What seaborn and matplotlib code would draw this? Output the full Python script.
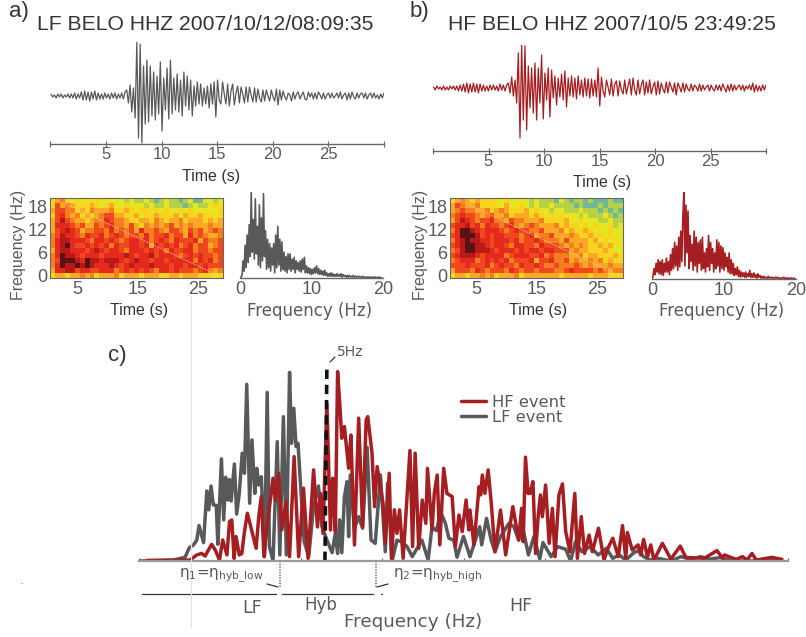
import numpy as np
import matplotlib
matplotlib.use("Agg")
import matplotlib.pyplot as plt
from matplotlib.colors import LinearSegmentedColormap
from matplotlib.lines import Line2D
import seaborn as sns

W, H = 806, 637

# waveforms (amplitude, evenly spread over the time axis)
lf_wave = [2,-1,1,-2,2,-1,2,-2,1,-1,2,-2,2,-2,3,-3,2,-2,4,-4,5,-4,4,-5,4,-3,5,-4,3,-3,2,-3,3,-2,2,-3,3,-2,3,-3,2,-2,3,-3,4,
           6,-7,11,-16,8,-22,54,-42,52,-47,
           30,-28,36,-26,30,-20,24,-24,20,-18,34,-35,18,-14,28,-23,36,-18,18,-14,22,-16,16,-20,24,-10,20,-14,16,-20,
           10,-10,14,-8,12,-10,8,-8,10,-12,12,-8,14,-21,
           16,-4,-8,14,2,-8,12,-10,5,12,-9,3,10,-7,9,2,-7,9,-6,9,1,-6,8,-6,7,-2,-6,6,-5,6,0,-5,
           6,-1,-5,7,-9,6,-4,5,-1,-4,3,1,-5,4,-3,2,4,-3,1,4,-3,-4,4,-1,3,-3,3,-3,4,1,-3,3,-3,1,3,-2,3,-2,0,3,
           -2,4,-3,1,3,-4,3,-3,4,-1,-3,3,-2,2,3,-2,3,-3,1,3,-2,3,-2,1,-3,2,-2,3]
hf_wave = [1,-2,2,-1,1,-2,2,-2,1,-2,2,-1,2,-2,2,-3,3,-3,4,-4,5,-5,4,-4,5,-4,4,-5,4,-3,3,-3,2,-3,3,-2,3,-2,2,-3,4,-2,3,-3,3,
           5,-5,11,-8,8,-15,35,-50,43,-32,42,-42,22,-20,20,-25,25,-32,20,-15,33,-31,15,-12,20,-29,18,-10,12,-17,10,-9,14,-12,17,-19,
           10,-8,12,-9,10,-11,12,-7,8,-9,10,-8,9,-10,9,-8,8,-9,20,-18,
           11,-3,-9,8,1,-7,9,-8,4,7,-8,7,-2,-6,8,-6,2,9,-7,10,-2,-7,8,-6,3,8,-7,6,-5,8,-6,1,6,-7,7,-6,5,-1,-5,6,
           -5,6,1,-4,5,-7,5,1,-4,5,-4,4,-1,-3,4,-3,3,1,-3,4,-3,3,-2,1,3,-3,3,-1,-3,3,-2,3,-3,4,0,-4,3,-3,4,-3,
           3,-2,1,3,-2,3,-3,2,-1,3,-2,5,-4,3,-3,2,-3,3,-2,3]

# spectrogram levels, 0 = weak (teal) .. 9 = strong (dark), top row = highest frequency
lf_spec = ["34532322332222212112101211012002212",
           "36454333432342232221211211101211232",
           "46655343544453343233232322323222223",
           "36754534345664433423343334243343323",
           "46865443455765543344354344534443434",
           "47776564465675546435454564545444544",
           "46787645566575656475565466546564565",
           "56877657667567656657566756647565445",
           "57887776577676567767567657666746556",
           "57897667676757667767476767567566456",
           "47887776787677657776767576677566566",
           "57988767776777787677867776567676656",
           "56999879887888767877677677777576756",
           "57988989877787678777877767767767666",
           "47788677667775676767657767666567545",
           "34434454534445344434443344344433323"]
hf_spec = ["34543433322322221211102101101000100",
           "46544533332422321211211110100010111",
           "45655445345433342322122111211101010",
           "56766545644534443432323222121112101",
           "46876566755465544453333422322211211",
           "67786757665675456544453433232322312",
           "57998767776567665564445343343222322",
           "67999867677666567455644454334332322",
           "57898877677767566765554644443423232",
           "67899887677657766576665454543343422",
           "56899888767776767767766645443334322",
           "67888767777567776675655544534433343",
           "56777567676756667466755645445453433",
           "66676667567665766765565556545444544",
           "46665765666576566566655676666565455",
           "34434454534445344444443444443444333"]
spec_colors = ["#6fb89a", "#b8d048", "#e8e61e", "#f8d41e", "#f9a825", "#f5801f",
               "#f0481e", "#e42a1c", "#b81a18", "#5a1214"]

# small spectra, 7 values per Hz
lf_small = [0,1,3,20,8,38,12, 50,18,62,25,100,30,68, 22,92,28,60,15,85,12, 70,20,98,25,55,10,45,
            12,40,8,35,15,40,6, 50,12,60,15,45,8,42, 10,30,8,25,6,28,10, 28,8,22,10,24,6,20,
            10,18,8,20,7,22,10, 24,6,14,6,12,5,11, 4,10,5,12,6,14,5, 11,4,9,4,8,3,9,
            3,6,2,5,2,6,2, 5,2,4,2,5,2,4, 2,5,1,4,2,3,1, 3,1,3,1,2,1,3, 1,2,1,2,1,2,1,
            1,2,1,1,1,1,1, 1,1,1,1,0,1,1, 1,0,1,0,1,0,0]
hf_small = [0,3,12,5,18,8,22, 6,20,5,22,4,18,8, 24,8,20,5,28,10,35, 12,42,15,38,10,48,14,
            55,20,70,100,15,85,30, 78,12,50,20,40,10,55, 15,48,8,42,18,45,10, 48,12,30,8,35,14,50,
            10,42,18,35,8,30,12, 45,15,42,8,38,12,36, 10,30,14,25,8,30,6, 22,6,18,4,12,5,14,
            3,10,2,8,3,7,2, 8,2,6,3,10,2,6, 2,7,2,5,1,6,2, 4,1,3,1,3,1,2, 1,3,1,2,1,2,1,
            1,2,1,2,1,1,1, 1,1,2,1,1,1,1, 1,0,1,1,0,1,0]

# panel c spectra
lf_freq = [0.03,1.06,1.42,1.55,1.68,1.78,1.85,1.99,2.09,2.15,2.22,2.29,2.38,2.43,2.54,2.61,2.67,2.74,2.79,2.84,
           2.94,3.01,3.09,3.18,3.25,3.32,3.41,3.48,3.57,3.63,3.69,3.77,3.87,3.95,4.02,4.13,4.26,4.34,4.45,4.54,
           4.64,4.70,4.77,4.84,4.90,5.02,5.09,5.23,5.38,5.53,5.64,5.79,5.95,6.05,6.12,6.18,6.25,6.33,6.41,6.46,
           6.51,6.64,6.77,6.89,7.03,7.15,7.28,7.44,7.59,7.66,7.80,7.95,8.11,8.26,8.42,8.57,8.72,8.91,9.03,9.17,
           9.29,9.44,9.55,9.70,9.80,10.0,10.2,10.5,10.56,10.71,10.85,10.97,11.14,11.4,11.55,11.7,11.8,12.0,12.17,12.35,
           12.45,12.7,12.9,13.15,13.3,13.45,13.65,13.9,14.15,14.4,14.6,14.8,15.0,15.25,15.4,15.55,15.75,16.0,16.4,16.7,
           17.0,17.3,17.6,17.9,18.3,18.85,19.8]
lf_amp = [0,0.5,2,7,8.5,11,18.7,9.7,37,27,39.6,29.6,29.4,8.8,53.9,21.7,44.2,32.2,43,31.7,
          51.2,24.8,35.7,56.9,46.3,93.3,30.5,63.9,35.7,48.9,40.1,44.5,2.3,89,7.6,0,63,3.2,76.2,3.2,
          99.6,62.1,80.6,60.4,62.1,28.7,10.2,2.3,28.7,39.6,18.1,11.1,4.4,14.6,4,21.7,4.4,34,41.9,12.9,
          45.4,17.3,23.4,17.3,60,11.1,9.3,45.4,4.9,41,0,11,10,7.6,2.3,6.7,11,0.5,18,16,
          26,20,12,11,2,13,2.3,18.1,8.5,22.5,11.1,4.9,12.9,19.9,18.1,11.1,19.9,3.2,12.9,1,
          9.7,2.3,7.6,6.2,0,10.2,4.9,7.6,3.2,6.7,1.4,3.2,0.5,4.4,5.5,2.3,0.5,1.4,0,2.3,
          0.9,2.3,1,1.8,0,0,0.5]
hf_freq = [0.24,1.57,1.78,1.93,2.04,2.11,2.24,2.35,2.48,2.58,2.71,2.79,2.86,2.93,2.99,3.09,3.17,3.25,3.34,3.51,
           3.61,3.69,3.77,3.85,3.96,4.13,4.2,4.30,4.4,4.53,4.64,4.78,4.92,5.07,5.21,5.38,5.50,5.59,5.67,5.79,
           5.90,5.97,6.05,6.12,6.18,6.25,6.33,6.46,6.53,6.64,6.77,6.89,7.0,7.05,7.18,7.26,7.34,7.52,7.59,7.71,
           7.78,7.87,7.95,8.03,8.14,8.35,8.43,8.51,8.62,8.73,8.84,8.89,9.03,9.1,9.19,9.27,9.39,9.49,9.65,
           9.75,9.86,9.96,10.08,10.16,10.2,10.32,10.48,10.53,10.58,10.66,10.76,10.86,10.97,11.14,11.3,11.52,11.7,11.79,11.84,
           11.91,11.99,12.05,12.14,12.22,12.3,12.37,12.43,12.53,12.64,12.74,12.82,12.94,13.05,13.15,13.28,13.43,13.51,13.63,13.73,
           13.87,13.97,14.16,14.33,14.45,14.6,14.77,14.9,15.0,15.05,15.2,15.38,15.46,15.55,15.67,15.77,15.87,16.13,16.39,16.68,
           16.85,17.42,17.81,17.99,18.04,18.4,18.6,18.74,18.89,19.02,19.5,19.81]
hf_amp = [0.3,0.5,3.2,4,2.6,4.9,8.8,5.8,0.5,11.1,3.2,20.8,21.7,1.4,12.9,3.2,4,15.5,25.2,13.7,
          6.7,23.4,34,2.3,20,43.7,32,46.3,16.4,31.3,2.3,55.1,2.3,38.4,1.4,48.1,18,35.7,14.6,83.3,
          16.4,43.7,15.5,100,85,64.8,71,49,66.5,8.5,75.4,18.1,74.5,76.2,57,28.7,49.8,30.5,9.3,46.3,
          1.4,27,14.6,27,1.4,58.3,7.6,56.9,6.7,32.2,19.9,48.9,16.4,35.7,45.4,8.5,48.9,35.7,34,
          7.6,24.3,15.5,32.2,16.4,26.9,8.5,39.3,34.9,45.4,35.7,48.1,29.6,4.9,26.9,3.2,28.7,11.1,27.8,10.2,
          54.8,35.7,35.7,41.9,4,23.4,34.9,23.4,40.1,9.3,27.8,2.3,34.9,40.7,15.5,4.9,35.7,1.4,23.4,4,
          13.7,4.9,17.3,0.5,6.7,12,2.3,18.7,1.4,15,5.8,8.5,3.2,11.4,2.3,8.5,0.5,9.3,1,7.9,
          1.9,1.4,5.5,1.4,3.2,0.9,2.3,0.5,4,0.5,1.9,0.9]

time_ticks = [0, 5, 10, 15, 20, 25, 30]
time_labels = ["", "5", "10", "15", "20", "25", ""]
spec_xticks = [5, 15, 25]
spec_yticks = [0, 6, 12, 18]
small_xticks = [0, 10, 20]
c_xticks = [0, 2.5, 5, 7.5, 10, 12.5, 15, 17.5, 20]
five_hz_x = [5.73, 5.79]
five_hz_y = [0, 103]

GREY = "#58595b"
RED = "#a51e22"
TXT = "#58595b"
ARIAL = "Liberation Sans"
DEJAVU = "DejaVu Sans"

sns.set_theme(style="white")
plt.rcParams["font.family"] = [ARIAL, "DejaVu Sans"]
plt.rcParams["mathtext.fontset"] = "dejavusans"

fig = plt.figure(figsize=(W / 100, H / 100), dpi=100)
spec_cmap = LinearSegmentedColormap.from_list("spec", spec_colors)


def add_ax(x0, y0, x1, y1):
    # pixel box, y measured from the top of the picture
    ax = fig.add_axes([x0 / W, 1 - y1 / H, (x1 - x0) / W, (y1 - y0) / H])
    ax.patch.set_alpha(0)
    sns.despine(ax=ax, left=True)
    ax.spines["bottom"].set_color("#666666")
    ax.spines["bottom"].set_linewidth(1.0)
    ax.set_yticks([])
    ax.set_xlabel("")
    ax.set_ylabel("")
    return ax


def ptext(x, y, s, size=11, color=TXT, family=ARIAL, ha="center", **kw):
    fig.text(x / W, 1 - y / H, s, fontsize=size, color=color, family=family,
             ha=ha, va="center", **kw)


def pline(xs, ys, color="#333333", lw=0.9, **kw):
    fig.add_artist(Line2D([x / W for x in xs], [1 - y / H for y in ys], color=color, lw=lw, **kw))


def waveform(box, values, color, ylim):
    ax = add_ax(*box)
    t = np.linspace(0.05, 30, len(values))
    sns.lineplot(x=t, y=values, ax=ax, color=color, lw=0.9, estimator=None, sort=False)
    ax.set_xlim(0, 30)
    ax.set_ylim(*ylim)
    ax.set_xticks(time_ticks)
    ax.set_xticklabels(time_labels)
    ax.tick_params(axis="x", length=4, width=0.8, color="#666666", direction="inout", labelsize=12,
                   labelcolor=TXT, pad=0, bottom=True)
    ax.set_xlabel("")
    ax.set_ylabel("")
    ax.set_yticks([])


def spectrogram(box, rows, t_range, diag):
    ax = fig.add_axes([box[0] / W, 1 - box[3] / H, (box[2] - box[0]) / W, (box[3] - box[1]) / H])
    levels = np.array([[int(c) for c in r] for r in rows])
    sns.heatmap(levels, ax=ax, cmap=spec_cmap, vmin=0, vmax=9, cbar=False)
    nrows, ncols = levels.shape
    ax.plot(diag[0], diag[1], color="#f7c0a8", lw=0.7, ls=(0, (2, 1)), alpha=0.8)
    ax.set_xticks([(t - t_range[0]) / (t_range[1] - t_range[0]) * ncols for t in spec_xticks])
    ax.set_xticklabels(spec_xticks, rotation=0)
    ax.set_yticks([(20.8 - f) / 20.8 * nrows for f in spec_yticks])
    ax.set_yticklabels(spec_yticks, rotation=0)
    ax.tick_params(length=0, labelsize=13, labelcolor=TXT, pad=2)
    for s in ax.spines.values():
        s.set_visible(True)
        s.set_color("#666666")
        s.set_linewidth(0.8)


def small_spectrum(box, values, color):
    ax = add_ax(*box)
    f = np.arange(len(values)) / 7
    sns.lineplot(x=f, y=values, ax=ax, color=color, lw=1.2, estimator=None, sort=False)
    ax.set_xlim(0, 20)
    ax.set_ylim(0, 100)
    ax.set_xticks(small_xticks)
    ax.tick_params(axis="x", length=0, labelsize=13, labelcolor=TXT, pad=2)
    ax.set_xlabel("")
    ax.set_ylabel("")
    ax.set_yticks([])


# a) and b)
waveform((50.5, 42, 384, 144), lf_wave, GREY, (-48, 54))
waveform((433, 45, 766, 151), hf_wave, RED, (-63, 43))
spectrogram((50, 198, 223, 278), lf_spec, (0.55, 29.1), ([2.4, 33.8], [0.8, 15.4]))
spectrogram((450, 198, 623, 278), hf_spec, (0.7, 29.3), ([1, 34.8], [0, 15.8]))
small_spectrum((240, 192, 383, 278), lf_small, GREY)
small_spectrum((652, 192, 796, 279), hf_small, RED)

# c)
ax = add_ax(139, 361, 788, 561)
sns.lineplot(x=lf_freq, y=lf_amp, ax=ax, color=GREY, lw=2.5, estimator=None, sort=False, label="LF event")
sns.lineplot(x=hf_freq, y=hf_amp, ax=ax, color=RED, lw=2.5, estimator=None, sort=False, label="HF event")
ax.plot(five_hz_x, five_hz_y, color="#111111", lw=2.6, ls=(0, (2.6, 1.6)))
ax.set_xlim(0, 20)
ax.set_ylim(0, 105.6)
ax.set_xticks(c_xticks)
ax.set_xticklabels([])
ax.spines["bottom"].set_color("#999999")
ax.spines["bottom"].set_linewidth(1.6)
ax.tick_params(axis="x", length=2, width=0.8, color="#666666", direction="in", bottom=True)
handles, labels = ax.get_legend_handles_labels()
leg = ax.legend(handles[::-1], labels[::-1], loc="upper left", bbox_to_anchor=(0.484, 0.87), frameon=False,
                prop={"family": DEJAVU, "size": 11.8}, labelspacing=0.0, handlelength=1.5, handletextpad=0.4,
                borderpad=0, labelcolor=TXT)
ax.set_xlabel("")
ax.set_ylabel("")
ax.set_yticks([])

# titles and labels
ptext(205, 25, "LF BELO HHZ 2007/10/12/08:09:35", size=15.2, color="#333333")
ptext(612, 25, "HF BELO HHZ 2007/10/5 23:49:25", size=15.2, color="#333333")
ptext(19, 12, "a)", size=16, color="#333333")
ptext(419, 12, "b)", size=16, color="#333333")
ptext(117, 355, "c)", size=16, color="#333333")
ptext(211, 177, "Time (s)", size=11.5, color="#333333")
ptext(602, 183, "Time (s)", size=11.5, color="#333333")
ptext(139, 310, "Time (s)", size=11.5, color="#333333")
ptext(538, 310, "Time (s)", size=11.5, color="#333333")
ptext(19, 245, "Frequency (Hz)", size=11.5, rotation=90)
ptext(420, 245, "Frequency (Hz)", size=11.5, rotation=90)
ptext(310, 311, "Frequency (Hz)", size=12, family=DEJAVU)
ptext(722, 311, "Frequency (Hz)", size=12, family=DEJAVU)

# panel c annotations
ptext(337, 352, "5Hz", size=10, family=DEJAVU, ha="left")
pline([330, 335], [362, 357])
pline([280, 280], [561, 587], color="#888888", lw=1.4, ls=(0, (0.7, 0.7)))
pline([376, 376], [561, 587], color="#888888", lw=1.4, ls=(0, (0.7, 0.7)))
pline([267, 278], [584, 587])
pline([388, 377], [584, 587])
pline([142, 276], [594, 594])
pline([282, 373], [594, 594])
pline([381, 382], [594, 594])
pline([190.5, 190.5], [296, 628], color="#e4e4e4", lw=0.9)
ptext(179, 576, r"η$_1$=η$_{\mathrm{hyb\_low}}$", size=11, family=DEJAVU, ha="left")
ptext(393, 576, r"η$_2$=η$_{\mathrm{hyb\_high}}$", size=11, family=DEJAVU, ha="left")
ptext(252, 608, "LF", size=12.5, family=DEJAVU)
ptext(321, 605, "Hyb", size=12, family=DEJAVU)
ptext(521, 606, "HF", size=12.5, family=DEJAVU)
ptext(413, 622, "Frequency (Hz)", size=13.2, family=DEJAVU)
ptext(21, 582, ".", size=6, color="#333333")

fig.savefig("out.png", dpi=100)
